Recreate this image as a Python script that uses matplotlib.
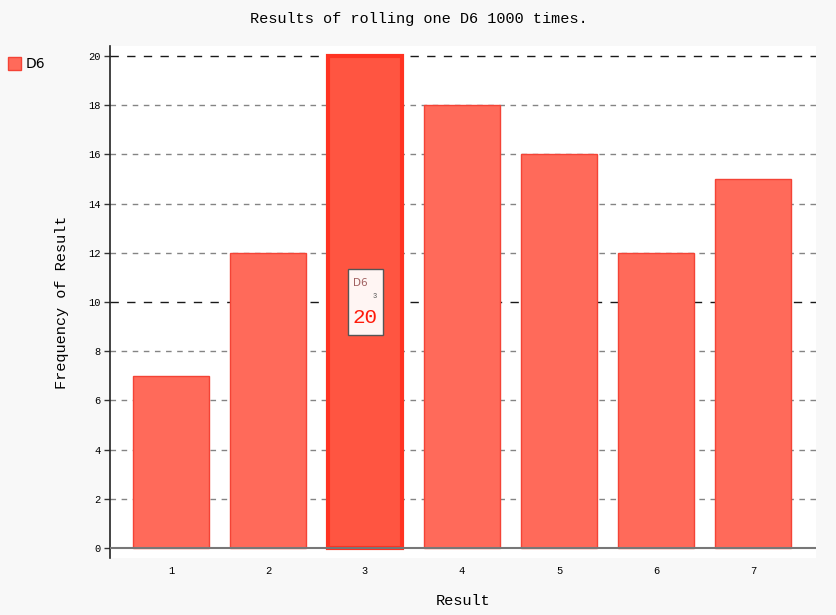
import matplotlib.pyplot as plt

# Data
results = [1, 2, 3, 4, 5, 6, 7]
frequencies = [7, 12, 20, 18, 16, 12, 15]
y_ticks = list(range(0, 21, 2))
highlight = 3  # hovered bar in the screenshot

mono = ['Liberation Mono', 'DejaVu Sans Mono']
plt.rcParams['font.family'] = mono

fig = plt.figure(figsize=(8.37, 6.15), dpi=100)
fig.patch.set_facecolor('#f8f8f8')
ax = fig.add_axes([110 / 837, 1 - 558 / 615, 706 / 837, 512 / 615])
ax.set_facecolor('white')

# gridlines
for t in y_ticks:
    if t == 0:
        continue
    major = t in (10, 20)
    ax.axhline(t, color='#000000' if major else '#666666', lw=1,
               ls=(0, (6, 6)) if major else (0, (4, 4)), zorder=1, alpha=0.9 if major else 0.8)
ax.axhline(0, color='#777777', lw=1.5, zorder=3)

for r, f in zip(results, frequencies):
    if r == highlight:
        ax.bar(r, f, width=0.76, color='#ff5541', edgecolor='#ff3322', linewidth=3, zorder=2)
    else:
        ax.bar(r, f, width=0.784, color='#ff6a5a', edgecolor='#f44336', linewidth=1, zorder=2)

ax.set_xlim(0.371, 7.649)
ax.set_ylim(-0.4065, 20.4065)
ax.set_xticks(results)
ax.set_xticklabels([str(r) for r in results], fontsize=7.5, color='#000000')
ax.set_yticks(y_ticks)
ax.set_yticklabels([str(t) for t in y_ticks], fontsize=7.5, color='#000000')
ax.tick_params(axis='x', length=0, pad=6)
ax.tick_params(axis='y', length=4, width=1, color='#333333', pad=3)

for s in ['top', 'right', 'bottom']:
    ax.spines[s].set_visible(False)
ax.spines['left'].set_color('#222222')
ax.spines['left'].set_linewidth(1.2)

ax.set_xlabel('Result', fontsize=11, color='#000000', va='center')
ax.xaxis.set_label_coords(0.5, (558 - 601) / 512)
ax.set_ylabel('Frequency of Result', fontsize=11, color='#000000', va='center')
ax.yaxis.set_label_coords((62 - 110) / 706, 0.5)
fig.text(0.5, 1 - 19 / 615, 'Results of rolling one D6 1000 times.', ha='center', va='center',
         fontsize=11, color='#000000')

# legend
fig.patches.append(plt.Rectangle((8 / 837, 1 - 70 / 615), 13 / 837, 13 / 615, transform=fig.transFigure,
                                 facecolor='#ff6a5a', edgecolor='#f44336', lw=1))
fig.text(26 / 837, 1 - 64 / 615, 'D6', fontsize=10, va='center', ha='left', color='#000000',
         family=['DejaVu Sans'])

# tooltip on hovered bar
box = plt.Rectangle((348 / 837, 1 - 335 / 615), 35 / 837, 66 / 615, transform=fig.transFigure,
                    facecolor='#fff5f3', edgecolor='#555555', lw=1, zorder=10)
fig.patches.append(box)
fig.text(353 / 837, 1 - 283 / 615, 'D6', fontsize=7.5, color='#a06060', va='center', ha='left',
         family=['DejaVu Sans'], zorder=11)
fig.text(375 / 837, 1 - 296 / 615, '3', fontsize=5, color='#555555', va='center', ha='center', zorder=11)
fig.text(365.5 / 837, 1 - 317 / 615, '20', fontsize=15, color='#ff1a0a', va='center', ha='center', zorder=11)

fig.savefig('out.png', dpi=100, facecolor=fig.get_facecolor())
